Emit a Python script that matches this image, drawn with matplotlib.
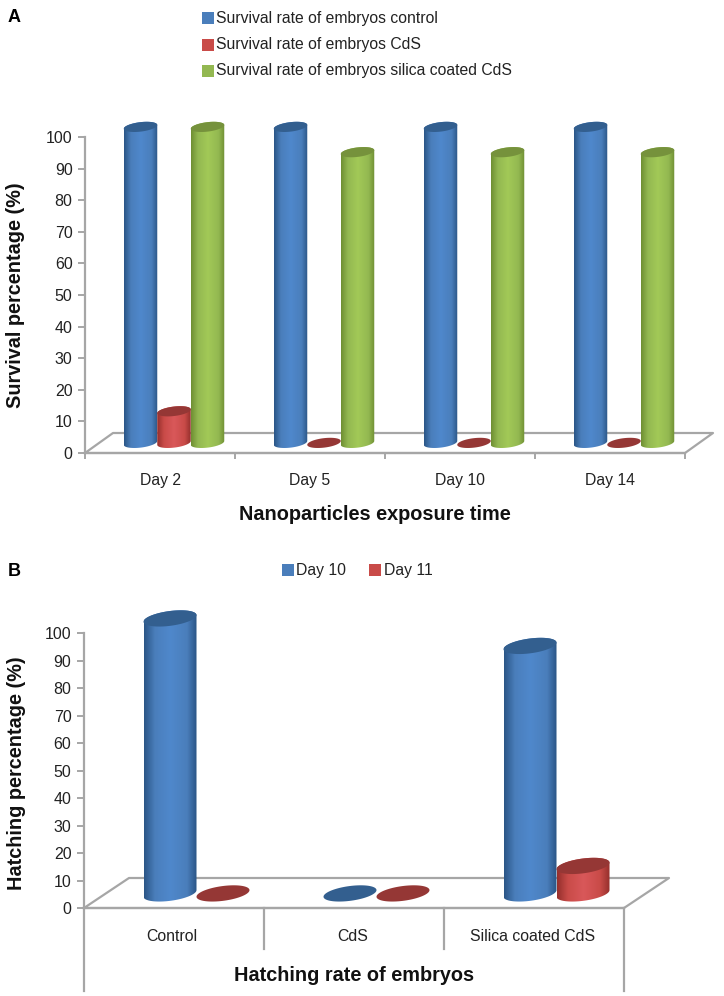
import numpy as np
from matplotlib import pyplot as plt
from matplotlib.colors import LinearSegmentedColormap
from matplotlib.patches import PathPatch, Rectangle
from matplotlib.path import Path

plt.rcParams['font.family'] = ['Liberation Sans', 'DejaVu Sans']

W, H = 724, 996
GRAY = '#a6a6a6'

# panel A
days = ['Day 2', 'Day 5', 'Day 10', 'Day 14']
survival_control = [100, 100, 100, 100]
survival_cds = [10, 0, 0, 0]
survival_silica = [100, 92, 92, 92]
survival_names = ['Survival rate of embryos control', 'Survival rate of embryos CdS',
                  'Survival rate of embryos silica coated CdS']

# panel B
groups = ['Control', 'CdS', 'Silica coated CdS']
hatch_day10 = [100, 0, 90]
hatch_day11 = [0, 0, 10]
hatch_names = ['Day 10', 'Day 11']

# dark edge, body, highlight, top face
BLUE = ('#2b5687', '#4a7ebb', '#4f88cc', '#335f8f')
RED = ('#96302d', '#c94b48', '#d9585a', '#953735')
GREEN = ('#6f8f33', '#93b851', '#a2c957', '#76923c')


def make_axes(left, right, top, bottom):
    # pixel box of the plot area -> figure fractions
    return fig.add_axes([left / W, 1 - bottom / H, (right - left) / W, (bottom - top) / H])


def cylinder(ax, cx, val, w, rx, ry, tilt, base, colors):
    t = np.linspace(0, 2 * np.pi, 80)
    ex = cx + rx * np.cos(t)
    ey = ry * np.sin(t) + tilt * np.cos(t)
    if val > 0:
        top = base + val
        low = t >= np.pi
        up = t <= np.pi
        xs = np.r_[ex[low], ex[up]]
        ys = np.r_[ey[low] + base, ey[up] + top]
        body = PathPatch(Path(np.c_[xs, ys]), fc='none', ec='none', transform=ax.transData)
        ax.add_patch(body)
        cmap = LinearSegmentedColormap.from_list(
            'c', [(0, colors[0]), (0.2, colors[1]), (0.5, colors[2]), (0.82, colors[1]), (1, colors[0])])
        im = ax.imshow(np.linspace(0, 1, 64).reshape(1, -1), cmap=cmap, aspect='auto',
                       extent=[cx - rx, cx + rx, base - ry - abs(tilt), top + ry + abs(tilt)], zorder=3)
        im.set_clip_path(body)
        im.set_clip_box(fig.bbox)
        ax.fill(ex, ey + top, color=colors[3], lw=0, zorder=3, clip_on=False)
    else:
        ax.fill(ex, ey + base, color=colors[3], lw=0, zorder=3, clip_on=False)


def draw_panel(ax, names, series, colors, n, depth_x, depth_y, base, w, ry, tilt):
    # floor of the 3d chart
    ax.plot([0, depth_x, n + depth_x, n, 0], [0, depth_y, depth_y, 0, 0],
            color=GRAY, lw=1.6, clip_on=False, zorder=1)
    width = w
    for i in range(n):
        for k, vals in enumerate(series):
            cx = i + 0.5 + depth_x / 2 + (k - (len(series) - 1) / 2) * width
            cylinder(ax, cx, vals[i], width, width / 2, ry, tilt, base, colors[k])
    ax.set_xlim(0, n)
    ax.set_ylim(0, 100)
    ax.set_yticks(range(0, 101, 10))
    ax.set_xticks(range(n + 1))
    ax.set_xticklabels([])
    ax.spines['top'].set_visible(False)
    ax.spines['right'].set_visible(False)
    ax.spines['left'].set_color(GRAY)
    ax.spines['bottom'].set_color(GRAY)
    ax.spines['left'].set_linewidth(1.6)
    ax.spines['bottom'].set_linewidth(1.6)
    ax.patch.set_alpha(0)
    ax.tick_params(axis='both', color=GRAY, width=1.4, labelsize=11.5, labelcolor='#222222')


def legend_entry(x, y, color, label, size=11.3):
    fig.add_artist(Rectangle((x / W, 1 - (y + 6) / H), 11.5 / W, 12 / H, color=color, lw=0,
                             transform=fig.transFigure))
    fig.text((x + 14.5) / W, 1 - y / H, label, fontsize=size, va='center', color='#222222')


fig = plt.figure(figsize=(W / 100, H / 100), dpi=100)

# A
ax1 = make_axes(85, 685, 137, 453)
draw_panel(ax1, survival_names, [survival_control, survival_cds, survival_silica],
           [BLUE, RED, GREEN], 4, 28 / 150, 20 / 3.16, 3.2, 33.5 / 150, 1.5, 0.6)
ax1.tick_params(axis='x', length=4)
ax1.tick_params(axis='y', length=5, pad=4)
for i, d in enumerate(days):
    ax1.text(i + 0.5, -8.6, d, ha='center', va='center', fontsize=11.3, color='#222222', clip_on=False)
ax1.text(1.93, -19.6, 'Nanoparticles exposure time', ha='center', va='center',
         fontsize=14.3, fontweight='bold', color='#111111', clip_on=False)
ax1.set_ylabel('Survival percentage (%)', fontsize=14.3, fontweight='bold', color='#111111')
ax1.yaxis.set_label_coords(-0.1, 0.5)

# B
ax2 = make_axes(84, 624, 633, 908)
draw_panel(ax2, hatch_names, [hatch_day10, hatch_day11], [BLUE, RED], 3,
           45 / 180, 30 / 2.75, 5.3, 53 / 180, 2.7, 1.2)
ax2.tick_params(axis='x', length=0)
ax2.tick_params(axis='y', length=5, pad=4)
for x in (0, 3):
    ax2.plot([x, x], [0, -30], color=GRAY, lw=1.6, clip_on=False)
for x in (1, 2):
    ax2.plot([x, x], [0, -15], color=GRAY, lw=1.6, clip_on=False)
for i, g in enumerate(groups):
    ax2.text(i + 0.49, -10.2, g, ha='center', va='center', fontsize=11.4, color='#222222', clip_on=False)
ax2.text(1.5, -24.5, 'Hatching rate of embryos', ha='center', va='center',
         fontsize=14.3, fontweight='bold', color='#111111', clip_on=False)
ax2.set_ylabel('Hatching percentage (%)', fontsize=14.3, fontweight='bold', color='#111111')
ax2.yaxis.set_label_coords(-0.108, 0.49)

# legends and panel letters sit outside the axes
legend_entry(202, 18, BLUE[1], survival_names[0])
legend_entry(202, 45, RED[1], survival_names[1])
legend_entry(202, 71, GREEN[1], survival_names[2])
legend_entry(282, 570, BLUE[1], hatch_names[0])
legend_entry(369, 570, RED[1], hatch_names[1])
fig.text(8 / W, 1 - 18 / H, 'A', fontsize=13, fontweight='bold', va='center')
fig.text(8 / W, 1 - 571 / H, 'B', fontsize=13, fontweight='bold', va='center')

fig.savefig('out.png', dpi=100)
